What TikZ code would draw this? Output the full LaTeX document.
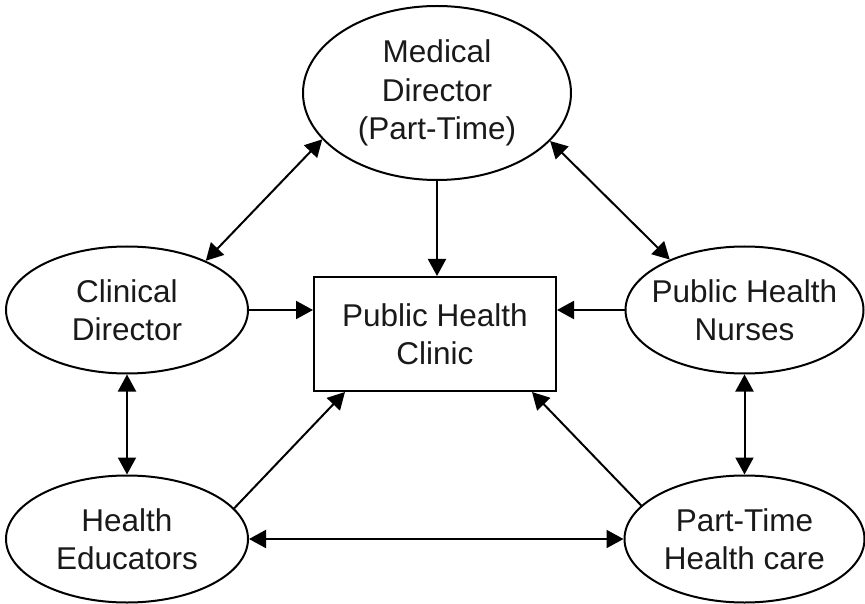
\documentclass[tikz,border=0pt]{standalone}
\usepackage{fontspec}
\setmainfont{Liberation Sans}
\usetikzlibrary{shapes.geometric,arrows.meta}
\begin{document}
\begin{tikzpicture}[x=1pt,y=-1pt,
  ell/.style={draw, ellipse, line width=2pt, inner sep=-15pt, align=center,
    font=\fontsize{31.5}{38.5}\selectfont, text=black!90},
  box/.style={draw, rectangle, line width=2pt, inner sep=0pt, align=center,
    font=\fontsize{31.5}{38.5}\selectfont, text=black!90,
    minimum width=242pt, minimum height=114pt},
  conn/.style={line width=2pt, -{Triangle[length=17pt,width=18pt]}},
  bconn/.style={line width=2pt, {Triangle[length=17pt,width=18pt]}-{Triangle[length=17pt,width=18pt]}}
]
\useasboundingbox (0,0) rectangle (865,604);
\node[ell, minimum width=268pt, minimum height=174pt] (md) at (437,93) {Medical\\Director\\(Part-Time)};
\node[ell, minimum width=242pt, minimum height=127pt] (cd) at (127,310) {Clinical\\Director};
\node[ell, minimum width=238pt, minimum height=127pt] (phn) at (744.5,310) {Public Health\\Nurses};
\node[ell, minimum width=242pt, minimum height=127pt] (he) at (127,539) {Health\\Educators};
\node[ell, minimum width=240pt, minimum height=127pt] (pt) at (744.5,539) {Part-Time\\Health care};
\node[box] (rect) at (435,334) {Public Health\\Clinic};

\draw[bconn] (cd.32.5) -- (md.202.9);
\draw[bconn] (md.337.4) -- (phn.146.3);
\draw[conn] (md.south) -- (md.south |- rect.north);
\draw[conn] (cd.east) -- (cd.east -| rect.west);
\draw[conn] (phn.west) -- (phn.west -| rect.east);
\draw[bconn] (cd.south) -- (he.north);
\draw[bconn] (phn.south) -- (pt.north);
\draw[bconn] (he.east) -- (pt.west);
\draw[conn] (he.16.2) -- ([xshift=32pt]rect.south west);
\draw[conn] (pt.162) -- ([xshift=-25pt]rect.south east);
\end{tikzpicture}
\end{document}
